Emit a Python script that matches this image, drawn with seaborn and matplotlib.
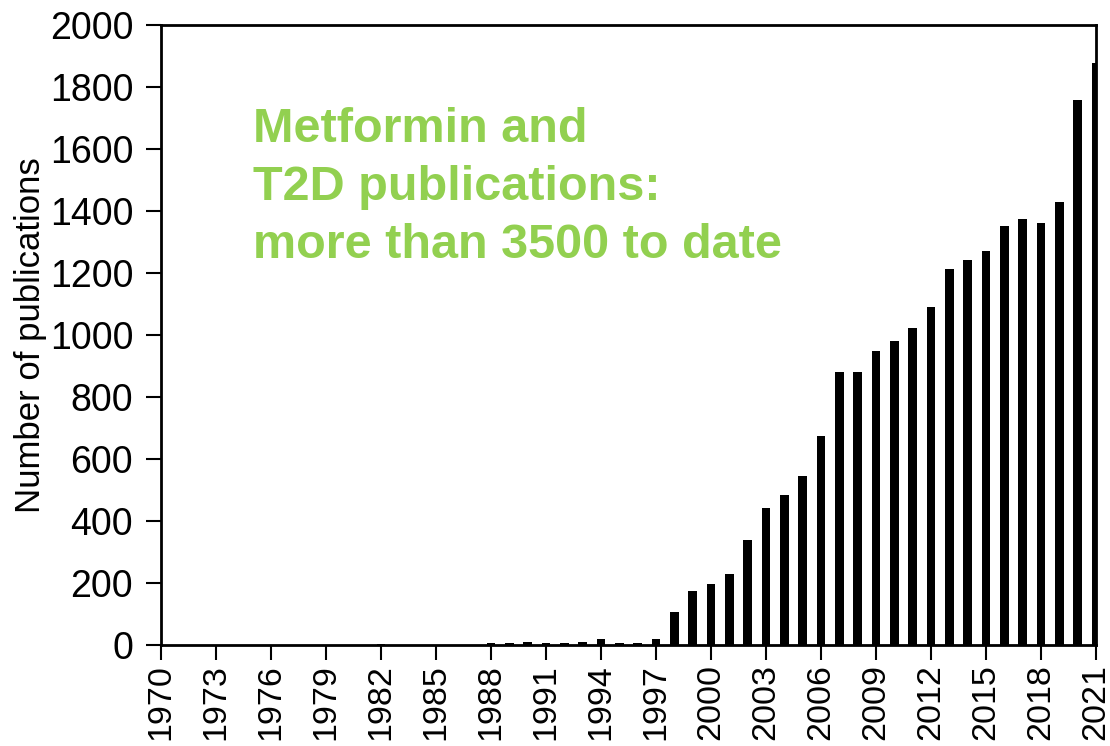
import numpy as np
import pandas as pd
import matplotlib
matplotlib.use("Agg")
import matplotlib.pyplot as plt
import seaborn as sns

# yearly publication counts
years = list(range(1970, 2022))
counts = [0, 0, 0, 0, 0, 0, 0, 0, 0, 0, 0, 0,          # 1970-1981
          3, 0, 0, 0, 0, 0,                              # 1982-1987
          6, 8, 10, 7, 6, 10, 20, 7, 8, 19,              # 1988-1997
          108, 175, 196, 229, 339, 442, 484, 544, 673,   # 1998-2006
          882, 880, 948, 982, 1023, 1090, 1213, 1242,    # 2007-2014
          1270, 1350, 1374, 1362, 1429, 1758, 1878]      # 2015-2021
tick_years = list(range(1970, 2022, 3))
y_ticks = list(range(0, 2001, 200))

df = pd.DataFrame({"year": years, "count": counts})

sns.set_style("ticks")
plt.rcParams["font.family"] = ["Liberation Sans", "DejaVu Sans"]
plt.rcParams["text.color"] = "black"
plt.rcParams["axes.labelcolor"] = "black"
plt.rcParams["xtick.color"] = "black"
plt.rcParams["ytick.color"] = "black"

fig = plt.figure(figsize=(11.1, 7.46), dpi=100)
ax = fig.add_axes([0.145, 0.1354, 0.8424, 0.8311])

sns.barplot(data=df, x="year", y="count", native_scale=True, color="black",
            width=0.46, saturation=1, linewidth=0, ax=ax)

ax.set_xlim(1970, 2021)
ax.set_ylim(0, 2000)
ax.set_xticks(tick_years)
ax.set_xticklabels([str(y) for y in tick_years], rotation=90, fontsize=24.5)
ax.set_yticks(y_ticks)
ax.set_yticklabels([str(v) for v in y_ticks], fontsize=27)
ax.set_xlabel("")
ax.set_ylabel("Number of publications", fontsize=25, labelpad=2)

for s in ax.spines.values():
    s.set_linewidth(2)
    s.set_color("black")
ax.tick_params(axis="both", direction="out", length=11, width=1.5, color="black")
ax.tick_params(axis="x", pad=3)
ax.tick_params(axis="y", pad=9)

ax.text(0.098, 0.868, "Metformin and\nT2D publications:\nmore than 3500 to date",
        transform=ax.transAxes, color="#92D050", fontsize=35, fontweight="bold",
        ha="left", va="top", linespacing=1.38)

fig.savefig("out.png", dpi=100)
